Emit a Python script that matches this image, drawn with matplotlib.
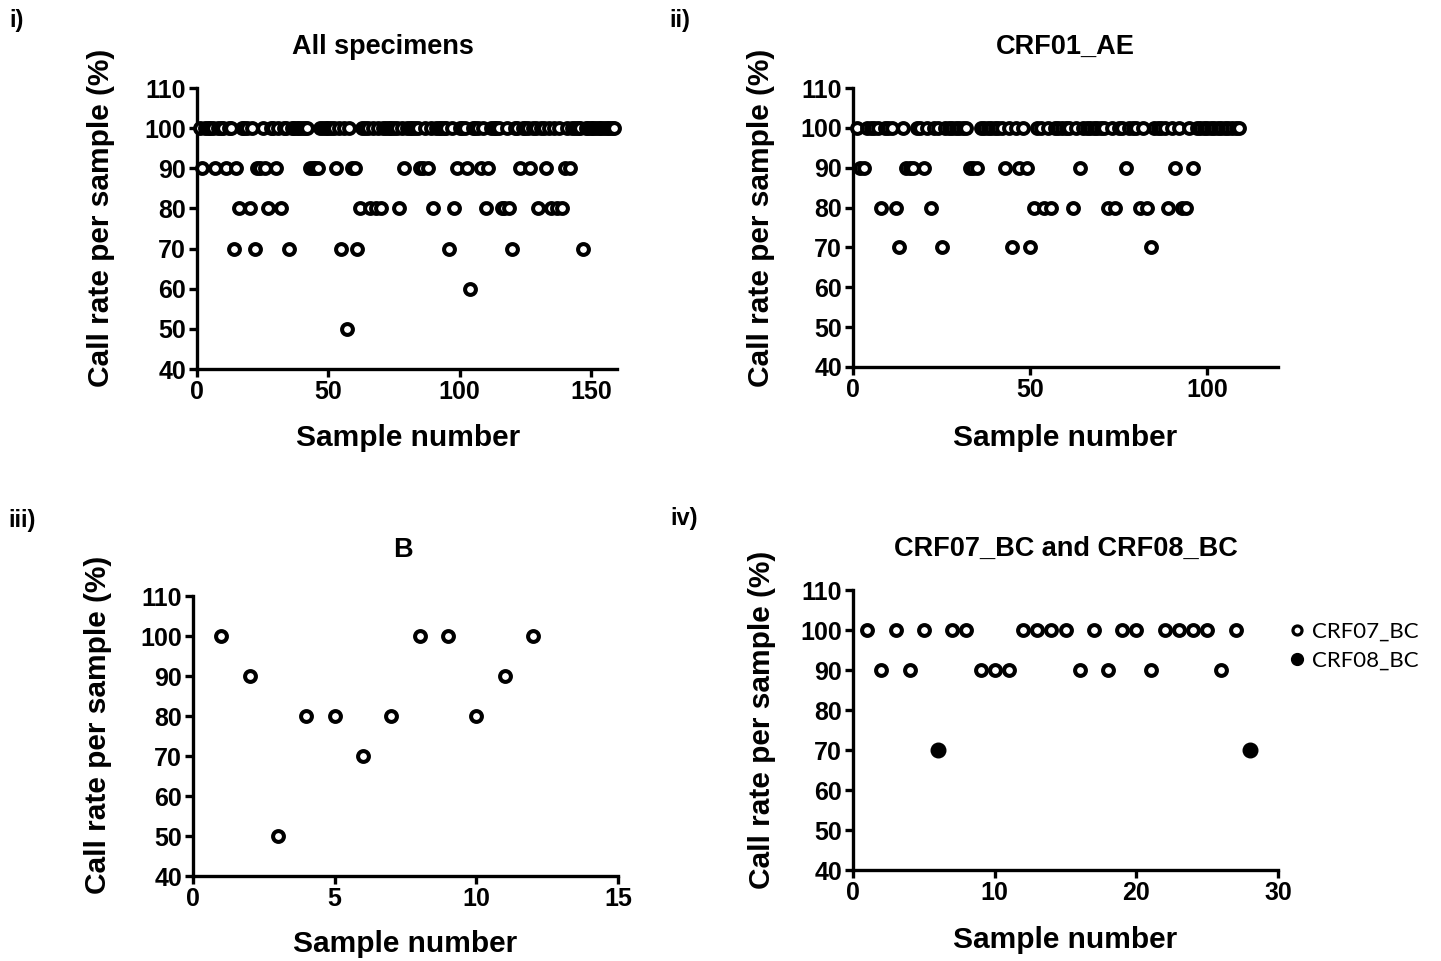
import matplotlib
matplotlib.use('Agg')
import matplotlib.pyplot as plt
from matplotlib.lines import Line2D

plt.rcParams['font.family'] = ['Liberation Sans', 'DejaVu Sans']

# ---------------- data ----------------
# Panel i: all specimens (sample numbers whose call rate is below 100 %)
all_n = 159
all_90 = [2, 7, 11, 15, 23, 24, 26, 30, 43, 44, 45, 46, 53, 59, 60, 79, 85, 86, 88,
          99, 103, 108, 111, 123, 127, 133, 140, 142]
all_80 = [16, 20, 27, 32, 62, 66, 68, 70, 77, 90, 98, 110, 116, 117, 119, 130, 135, 137, 139]
all_70 = [14, 22, 35, 55, 61, 96, 120, 147]
all_60 = [104]
all_50 = [57]

# Panel ii: CRF01_AE
ae_n = 109
ae_90 = [2, 3, 15, 16, 17, 20, 33, 34, 35, 43, 47, 49, 64, 77, 91, 96]
ae_80 = [8, 12, 22, 51, 54, 56, 62, 72, 74, 81, 83, 89, 93, 94]
ae_70 = [13, 25, 45, 50, 84]

# Panel iii: B
b_x = [1, 2, 3, 4, 5, 6, 7, 8, 9, 10, 11, 12]
b_y = [100, 90, 50, 80, 80, 70, 80, 100, 100, 80, 90, 100]

# Panel iv: CRF07_BC and CRF08_BC
bc07_x = [1, 2, 3, 4, 5, 7, 8, 9, 10, 11, 12, 13, 14, 15, 16, 17, 18, 19, 20,
          21, 22, 23, 24, 25, 26, 27]
bc07_y = [100, 90, 100, 90, 100, 100, 100, 90, 90, 90, 100, 100, 100, 100, 90, 100,
          90, 100, 100, 90, 100, 100, 100, 100, 90, 100]
bc08_x = [6, 28]
bc08_y = [70, 70]

y_ticks = [40, 50, 60, 70, 80, 90, 100, 110]


def series(n, levels):
    vals = {i: 100 for i in range(1, n + 1)}
    for v, idx in levels:
        for i in idx:
            vals[i] = v
    xs = list(vals.keys())
    return xs, [vals[i] for i in xs]


all_x, all_y = series(all_n, [(90, all_90), (80, all_80), (70, all_70), (60, all_60), (50, all_50)])
ae_x, ae_y = series(ae_n, [(90, ae_90), (80, ae_80), (70, ae_70)])

# ---------------- figure ----------------
W, H = 1441, 961
fig = plt.figure(figsize=(W / 100, H / 100), dpi=100)


def add_ax(l, r, t, b):
    return fig.add_axes([l / W, 1 - b / H, (r - l) / W, (b - t) / H])


LW = 2.4
open_kw = dict(marker='o', ls='none', mfc='white', mec='black', ms=7.8, mew=2.9, clip_on=False, zorder=3)
fill_kw = dict(marker='o', ls='none', mfc='black', mec='black', ms=10.5, mew=1, clip_on=False, zorder=3)


def style(ax, xlim, xticks):
    ax.set_xlim(*xlim)
    ax.set_ylim(40, 110)
    ax.set_xticks(xticks)
    ax.set_yticks(y_ticks)
    for s in ['top', 'right']:
        ax.spines[s].set_visible(False)
    for s in ['left', 'bottom']:
        ax.spines[s].set_linewidth(LW)
    ax.tick_params(direction='out', length=6, width=LW, labelsize=18, pad=2)
    for lab in ax.get_xticklabels() + ax.get_yticklabels():
        lab.set_fontweight('bold')


def txt(x, y, s, **kw):
    fig.text(x / W, 1 - y / H, s, ha='center', va='center', fontweight='bold', **kw)


# Panel i
ax1 = add_ax(197, 617, 88, 369)
ax1.plot(all_x, all_y, **open_kw)
style(ax1, (0, 160), [0, 50, 100, 150])

# Panel ii
ax2 = add_ax(853, 1278, 88, 367)
ax2.plot(ae_x, ae_y, **open_kw)
style(ax2, (0, 120), [0, 50, 100])

# Panel iii
ax3 = add_ax(193, 618, 596, 876)
ax3.plot(b_x, b_y, **open_kw)
style(ax3, (0, 15), [0, 5, 10, 15])

# Panel iv
ax4 = add_ax(853, 1278, 590, 870)
ax4.plot(bc07_x, bc07_y, **open_kw)
ax4.plot(bc08_x, bc08_y, **fill_kw)
style(ax4, (0, 30), [0, 10, 20, 30])

# titles, axis labels, panel labels
ylab = 'Call rate per sample (%)'
xlab = 'Sample number'
txt(383, 47, 'All specimens', fontsize=19.5)
txt(1065, 47, 'CRF01_AE', fontsize=19.5)
txt(403, 550, 'B', fontsize=19.5)
txt(1066, 549, 'CRF07_BC and CRF08_BC', fontsize=19.5)

for (x, y) in [(408, 438), (1065, 438), (405, 944), (1065, 940)]:
    txt(x, y, xlab, fontsize=21.5)
for (x, y) in [(101, 218), (761, 218), (98, 725), (762, 720)]:
    txt(x, y, ylab, fontsize=21.5, rotation=90)

for (x, y, s) in [(17, 21, 'i)'), (680, 21, 'ii)'), (22, 521, 'iii)'), (684, 519, 'iv)')]:
    txt(x, y, s, fontsize=17)

# legend for panel iv
h_open = Line2D([], [], marker='o', ls='none', mfc='white', mec='black', ms=6.5, mew=2.3)
h_fill = Line2D([], [], marker='o', ls='none', mfc='black', mec='black', ms=8.5, mew=1)
leg = fig.legend([h_open, h_fill], ['CRF07_BC', 'CRF08_BC'], loc='center left',
                 bbox_to_anchor=(1270 / W, 1 - 646 / H), frameon=False,
                 prop={'family': ['Lato', 'DejaVu Sans'], 'size': 16},
                 handlelength=0.6, handletextpad=0.4, labelspacing=0.4)

fig.savefig('out.png', dpi=100)
